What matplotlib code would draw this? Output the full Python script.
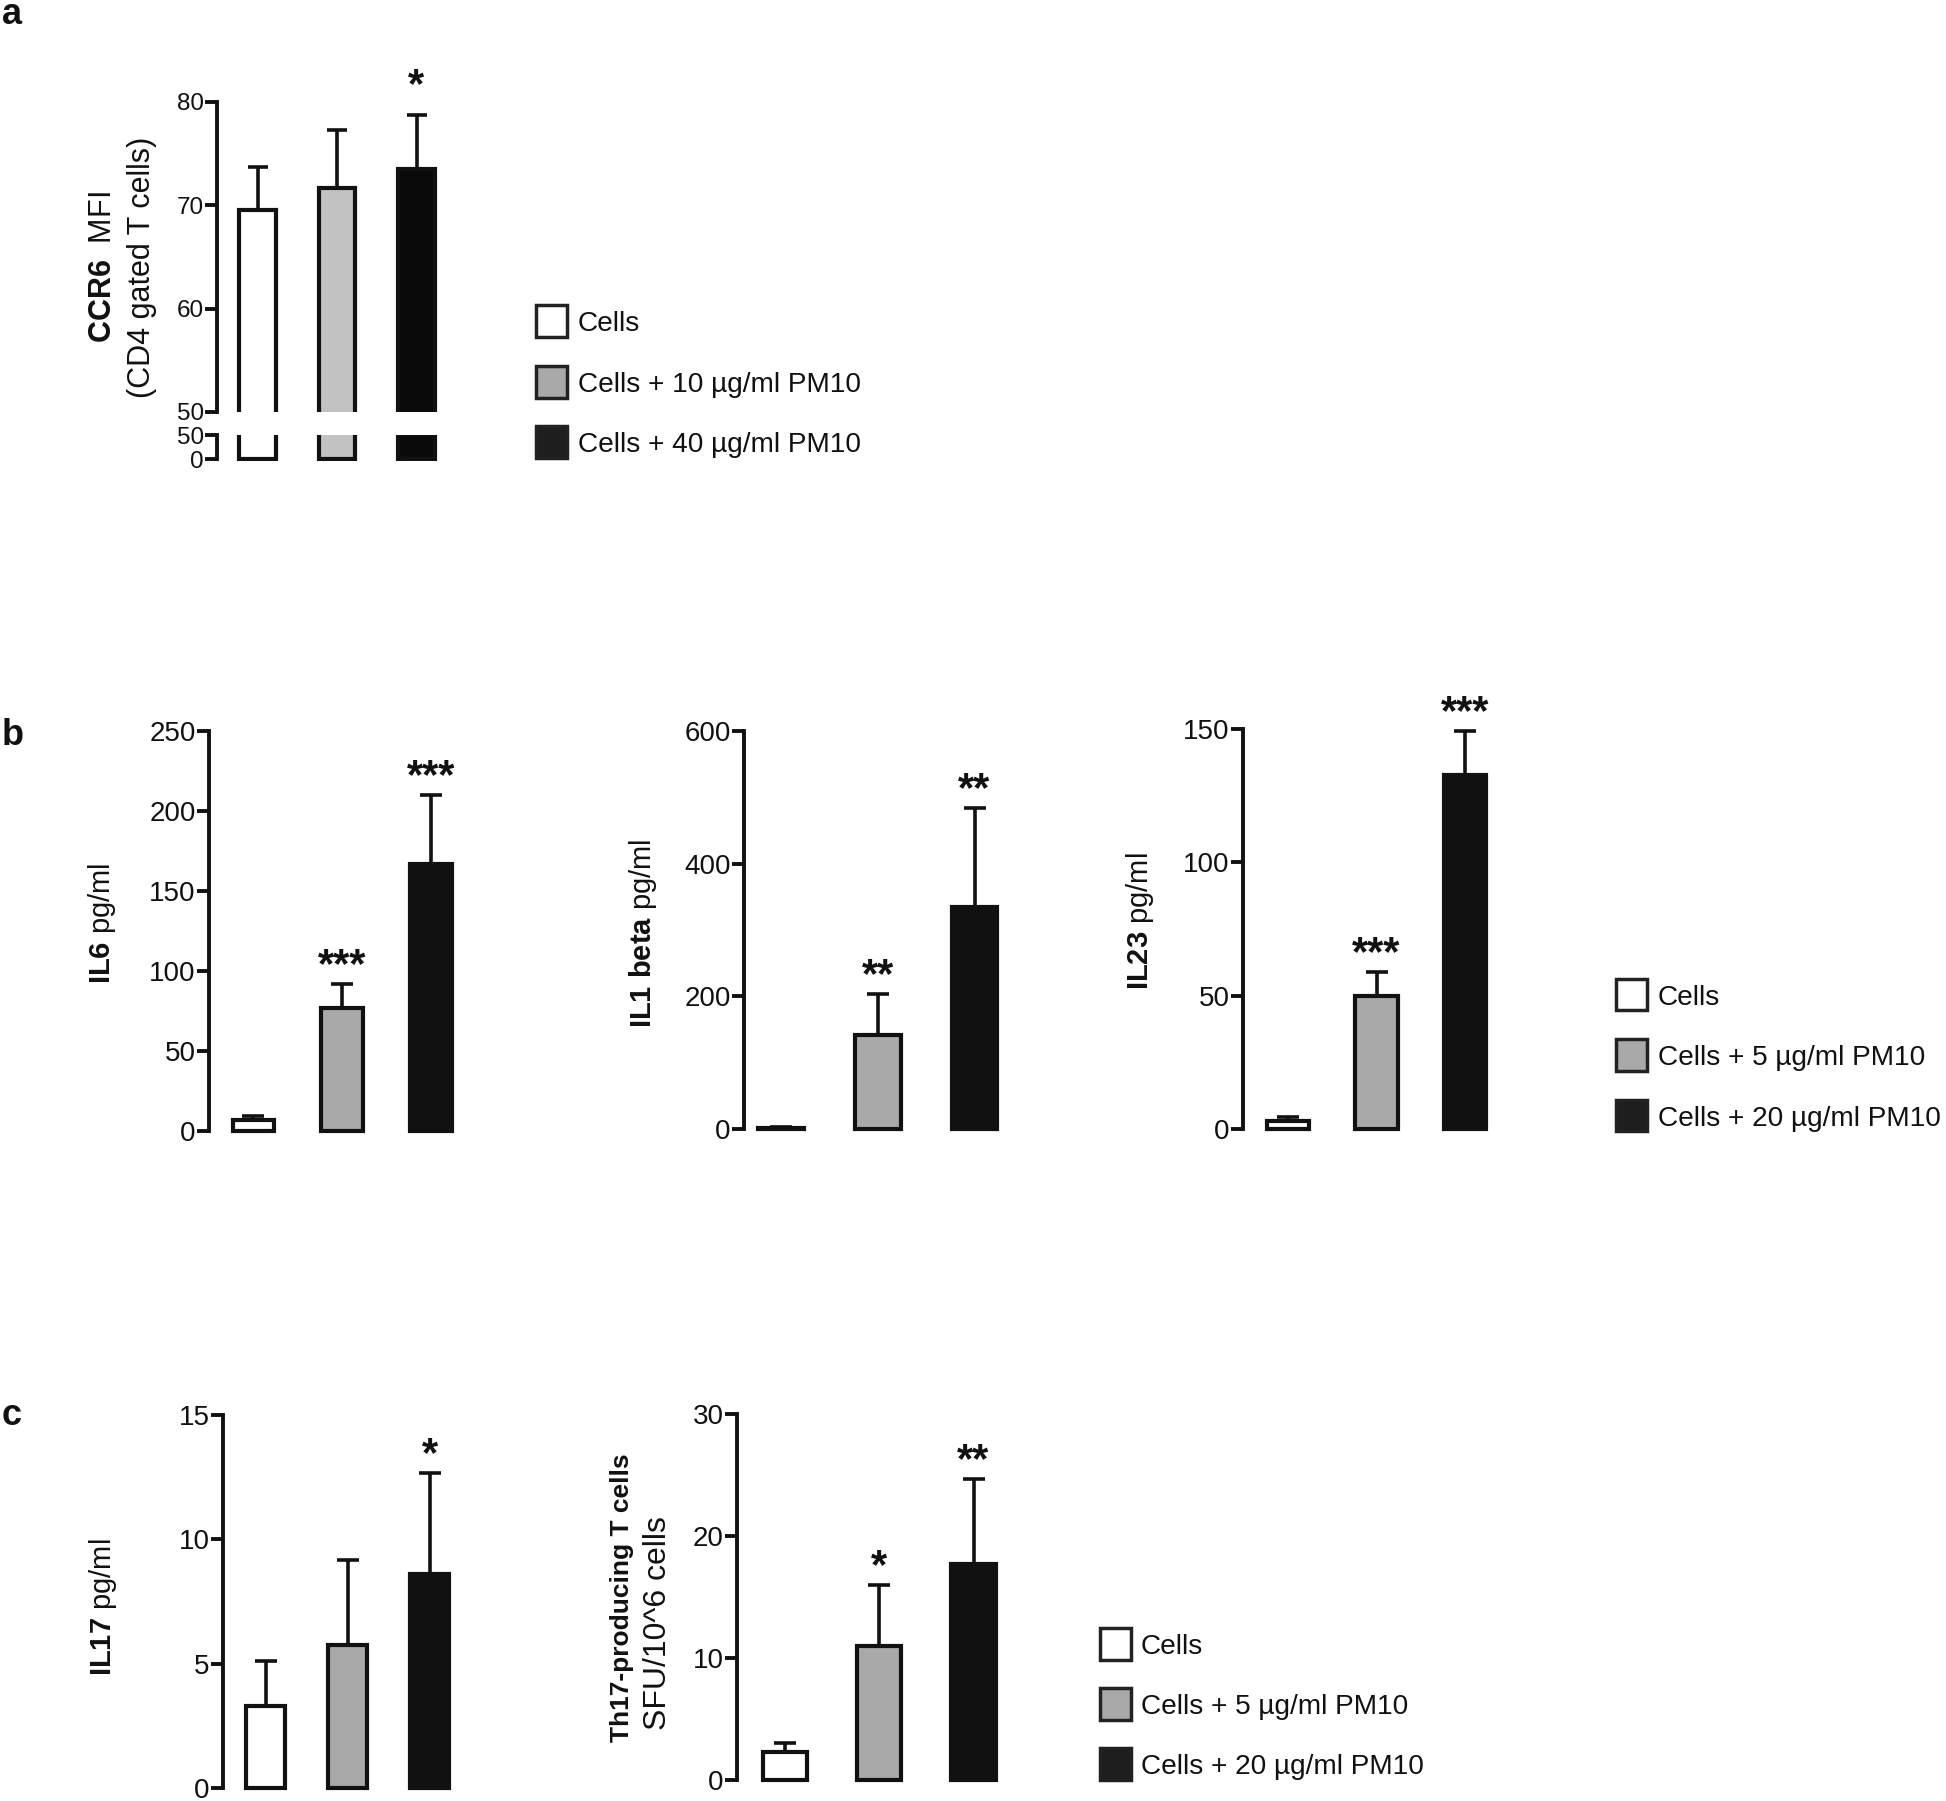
import matplotlib
matplotlib.use("Agg")
import matplotlib.pyplot as plt
from matplotlib.patches import Rectangle
import numpy as np

# ---------------- data ----------------
groups_a = ["Cells", "Cells + 10 µg/ml PM10", "Cells + 40 µg/ml PM10"]
groups_bc = ["Cells", "Cells + 5 µg/ml PM10", "Cells + 20 µg/ml PM10"]

ccr6_mean = [69.5, 71.7, 73.5]
ccr6_sem = [4.2, 5.6, 5.2]
ccr6_sig = ["", "", "*"]

il6_mean = [7, 77, 167]
il6_sem = [2.5, 15, 43]
il6_sig = ["", "***", "***"]

il1b_mean = [2, 141, 334]
il1b_sem = [1, 63, 150]
il1b_sig = ["", "**", "**"]

il23_mean = [3, 50, 132.6]
il23_sem = [1.5, 8.8, 16.5]
il23_sig = ["", "***", "***"]

il17_mean = [3.3, 5.75, 8.6]
il17_sem = [1.8, 3.4, 4.05]
il17_sig = ["", "", "*"]

th17_mean = [2.3, 11.0, 17.7]
th17_sem = [0.7, 4.95, 6.95]
th17_sig = ["", "*", "**"]

# ---------------- style ----------------
W, H, DPI = 1946, 1801, 100
plt.rcParams["font.family"] = ["Liberation Sans", "DejaVu Sans"]
plt.rcParams["mathtext.fontset"] = "custom"
plt.rcParams["mathtext.rm"] = "Liberation Sans"
plt.rcParams["mathtext.bf"] = "Liberation Sans:bold"
plt.rcParams["mathtext.it"] = "Liberation Sans:italic"

INK = "#111111"
COLORS_A = ["white", "#c2c2c2", "#0a0a0a"]
COLORS_BC = ["white", "#a9a9a9", "#111111"]
LEG_A = ["white", "#a9a9a9", "#1e1e1e"]
LW_BAR = 3.0
LW_SPINE = 2.8
LW_ERR = 2.6
CAP = 8.0
STAR_FS = 30

fig = plt.figure(figsize=(W / DPI, H / DPI), dpi=DPI)


def px_axes(x0, x1, ytop, ybot):
    return fig.add_axes([x0 / W, 1 - ybot / H, (x1 - x0) / W, (ybot - ytop) / H])


def style_axis(ax, lo, hi, ticks, labelsize):
    for s in ["top", "right", "bottom"]:
        ax.spines[s].set_visible(False)
    ax.spines["left"].set_linewidth(LW_SPINE)
    ax.spines["left"].set_color(INK)
    ax.spines["left"].set_bounds(lo, hi)
    ax.set_xticks([])
    ax.set_yticks(ticks)
    ax.set_yticklabels([str(t) for t in ticks])
    ax.tick_params(axis="y", length=8.6, width=LW_SPINE, color=INK,
                   labelsize=labelsize, pad=1, labelcolor=INK)
    ax.patch.set_alpha(0)


def errbars(ax, x, means, sems, capsize=CAP):
    eb = ax.errorbar(x, means, yerr=[np.zeros(len(means)), sems], fmt="none",
                     ecolor=INK, elinewidth=LW_ERR, capsize=capsize,
                     capthick=LW_ERR, zorder=2)
    for a in eb.get_children():
        a.set_clip_on(False)


def stars(ax, x, means, sems, sigs, off):
    for xi, m, s, g in zip(x, means, sems, sigs):
        if g:
            ax.annotate(g, xy=(xi, m + s), xytext=(0, off), textcoords="offset points",
                        ha="center", va="baseline", fontsize=STAR_FS,
                        fontweight="bold", color=INK, annotation_clip=False)


def bar_panel(means, sems, sigs, ymax, ticks, axis_px, right_px, top_px, bot_px,
              c0, sp, width):
    ax = px_axes(axis_px, right_px, top_px, bot_px)
    x = np.arange(len(means))
    ax.set_xlim(-(c0 - axis_px) / sp, (right_px - c0) / sp)
    ax.set_ylim(0, ymax)
    ax.bar(x, means, width, color=COLORS_BC, edgecolor=INK, linewidth=LW_BAR,
           clip_on=False, zorder=3)
    errbars(ax, x, means, sems)
    stars(ax, x, means, sems, sigs, 5)
    style_axis(ax, 0, ymax, ticks, 20)
    return ax


# ---------------- panel a (broken axis) ----------------
xa = np.arange(3)
wa = 0.465
axA = px_axes(217, 470, 102, 412)
axA.set_xlim(-(257.5 - 217) / 79.5, (470 - 257.5) / 79.5)
axA.set_ylim(50, 80)
axA.bar(xa, np.array(ccr6_mean) - 40, wa, bottom=40, color=COLORS_A, edgecolor=INK,
        linewidth=LW_BAR, zorder=3)
errbars(axA, xa, ccr6_mean, ccr6_sem, capsize=7.2)
stars(axA, xa, ccr6_mean, ccr6_sem, ccr6_sig, 13)
style_axis(axA, 50, 80, [50, 60, 70, 80], 17.5)

axA2 = px_axes(217, 470, 435, 461.4)
axA2.set_xlim(-(257.5 - 217) / 79.5, (470 - 257.5) / 79.5)
axA2.set_ylim(-5, 50)
axA2.bar(xa, [60, 60, 60], wa, bottom=0, color=COLORS_A, edgecolor=INK,
         linewidth=LW_BAR, zorder=3)
style_axis(axA2, 0, 50, [0, 50], 17.5)

# ---------------- panel b ----------------
bar_panel(il6_mean, il6_sem, il6_sig, 250, [0, 50, 100, 150, 200, 250],
          209, 480, 731, 1131, 253.5, 88.75, 0.47)
bar_panel(il1b_mean, il1b_sem, il1b_sig, 600, [0, 200, 400, 600],
          744, 1020, 731, 1129, 781, 96.75, 0.475)
bar_panel(il23_mean, il23_sem, il23_sig, 150, [0, 50, 100, 150],
          1243, 1510, 729, 1129, 1288, 88.5, 0.475)

# ---------------- panel c ----------------
bar_panel(il17_mean, il17_sem, il17_sig, 15, [0, 5, 10, 15],
          223, 480, 1415, 1788, 265.8, 82, 0.48)
bar_panel(th17_mean, th17_sem, th17_sig, 30, [0, 10, 20, 30],
          737, 1020, 1414, 1780, 785, 94.25, 0.47)

# ---------------- overlay: labels & legends ----------------
ov = fig.add_axes([0, 0, 1, 1])
ov.set_xlim(0, W)
ov.set_ylim(H, 0)
ov.axis("off")
ov.patch.set_alpha(0)


def vtext(x, y, s, fs, **kw):
    ov.text(x, y, s, rotation=90, ha="center", va="center", fontsize=fs, color=INK, **kw)


vtext(103, 267, r"$\mathbf{CCR6}$  MFI", 22)
vtext(142, 267, "(CD4 gated T cells)", 22)
vtext(102, 923, r"$\mathbf{IL6}$ pg/ml", 21)
vtext(643, 933, r"$\mathbf{IL1\ beta}$ pg/ml", 21)
vtext(1140, 921, r"$\mathbf{IL23}$ pg/ml", 21)
vtext(103, 1607, r"$\mathbf{IL17}$ pg/ml", 21)
vtext(622, 1598, "Th17-producing T cells", 19, fontweight="bold")
vtext(658, 1623, "SFU/10^6 cells", 23)

for lab, yb in [("a", 24), ("b", 745), ("c", 1425)]:
    ov.text(2, yb, lab, fontsize=26, fontweight="bold", color=INK, ha="left", va="baseline")


def legend(box_x, text_x, rows, labels, fills):
    size = 35
    for yc, lab, fc in zip(rows, labels, fills):
        ov.add_patch(Rectangle((box_x + 1.75, yc - size / 2 + 1.75), size - 3.5, size - 3.5,
                               facecolor=fc, edgecolor="#222222", linewidth=2.5))
        ov.text(text_x, yc + 10, lab, fontsize=20.2, color=INK, ha="left", va="baseline")


legend(534, 578, [321, 382, 442], groups_a, LEG_A)
legend(1614, 1658, [994.5, 1055, 1115.5], groups_bc, LEG_A)
legend(1098, 1141, [1644, 1704, 1764], groups_bc, LEG_A)

fig.savefig("out.png", dpi=DPI)
